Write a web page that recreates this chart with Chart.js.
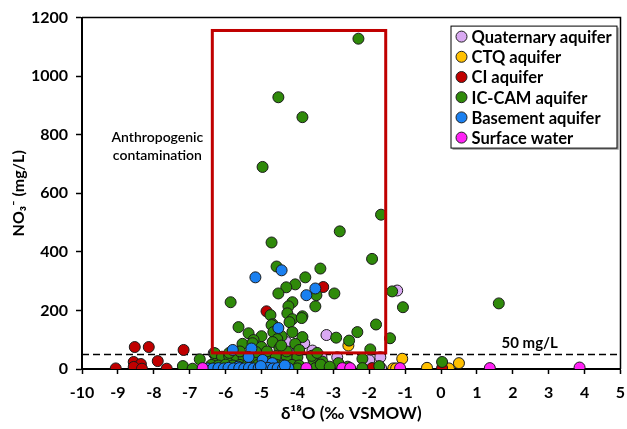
<!DOCTYPE html>
<html>
<head>
<meta charset="utf-8">
<script src="https://cdn.jsdelivr.net/npm/chart.js@4/dist/chart.umd.min.js"></script>
<style>body{margin:0;background:#fff}</style>
</head>
<body>
<canvas id="myChart" width="627" height="429"></canvas>
<script>
const seriesNames = ["Quaternary aquifer", "CTQ aquifer", "CI aquifer", "IC-CAM aquifer", "Basement aquifer", "Surface water"];
const seriesColors = ["#D9A9F2", "#FFC000", "#C00000", "#2F8A0A", "#1A80F0", "#FF22F5"];

// [δ18O, NO3] pairs
const quaternary = [[-1.22,268],[-3.19,116],[-4.31,92],[-3.81,88],[-3.58,63],[-6.33,54],[-3.33,40],[-2.89,40],
  [-1.69,40],[-2.00,30],[-1.67,3],[-4.00,60],[-4.60,40]];
const ctq = [[-2.58,80],[-1.08,35],[-1.33,2],[-0.39,4],[0.22,2],[0.50,20],[-1.25,2]];
const ci = [[-8.53,75],[-8.14,75],[-7.17,65],[-9.06,2],[-8.56,24],[-8.36,17],[-8.56,7],[-8.33,1],[-7.89,27],
  [-7.64,1],[-4.86,197],[-3.28,280],[-1.92,3],[0.03,3]];
const iccam = [[-2.30,1128],[-4.53,928],[-3.86,860],[-4.97,690],[-1.67,527],[-2.82,470],[-4.72,432],[-1.92,376],
  [-4.58,350],[-3.36,343],[-3.78,313],[-4.06,289],[-4.31,279],[-1.36,265],[-4.53,258],[-3.47,252],[-2.97,258],
  [1.61,224],[-5.86,228],[-4.14,228],[-3.50,214],[-4.25,214],[-1.06,211],[-4.28,190],[-4.75,184],[-3.86,180],
  [-4.14,170],[-3.88,174],[-4.22,160],[-4.69,153],[-4.72,150],[-1.81,152],[-5.64,143],[-5.36,122],[-4.67,126],
  [-4.14,126],[-2.33,126],[-5.00,112],[-4.44,112],[-4.56,102],[-3.86,109],[-2.92,107],[-2.56,97],[-1.42,105],
  [-5.22,99],[-5.53,86],[-4.06,86],[-5.25,88],[-4.69,92],[-5.00,75],[-4.50,71],[-1.97,67],[-6.28,45],[-6.72,33],
  [-7.19,10],[-6.92,1],[-2.19,35],[-2.86,20],[-1.72,10],[-3.31,3],[-2.19,3],[0.03,24],
  [-6.30,54],[-6.10,42],[-5.90,44],[-5.70,44],[-5.50,42],[-5.20,41],[-4.90,43],[-4.60,44],[-4.30,42],[-4.00,40],
  [-6.40,14],[-6.20,12],[-6.00,15],[-5.80,12],[-5.60,14],[-5.40,13],[-5.10,14],[-4.80,12],[-4.60,15],[-4.40,13],
  [-4.15,14],[-3.95,12],[-4.00,2],[-3.55,30],[-3.30,25],[-3.40,10],[-3.50,3],[-3.25,3],[-3.35,15],[-3.60,45],
  [-3.45,55],[-5.60,60],[-5.90,55],[-4.30,60],[-3.10,8],[-4.85,60],[-5.15,58],[-4.45,80],[-3.95,65],[-2.60,8]];
const basement = [[-5.17,313],[-4.44,337],[-3.50,275],[-3.75,252],[-4.53,140],[-5.80,65],[-5.28,70],[-5.36,41],
  [-4.97,31],[-4.70,20],[-5.65,8],[-6.50,2],[-6.35,2],[-6.20,3],[-6.05,2],[-5.92,4],[-5.78,2],[-5.62,3],[-5.48,2],
  [-5.35,4],[-5.22,2],[-5.08,3],[-4.95,2],[-4.82,4],[-4.68,2],[-4.55,3],[-4.40,2],[-4.25,3],[-5.02,10],[-4.35,12]];
const surface = [[-6.64,3],[-3.75,3],[-2.75,3],[-2.53,3],[-1.14,3],[1.36,3],[3.86,5]];

const allSeries = [quaternary, ctq, ci, iccam, basement, surface];
const drawOrder = [5, 4, 3, 2, 1, 0];

// annotation values
const boxX = [-6.37, -1.54];
const boxY = [55, 1156];
const limitY = 50;

const fontFam = "Lato, 'Open Sans', sans-serif";

const overlay = {
  id: "overlay",
  beforeDatasetsDraw(chart) {
    const { ctx, chartArea: a, scales: { x, y } } = chart;
    ctx.save();
    ctx.strokeStyle = "#000";
    ctx.lineWidth = 1.5;
    ctx.beginPath();
    ctx.moveTo(a.left, a.top);
    ctx.lineTo(a.right, a.top);
    ctx.lineTo(a.right, a.bottom);
    ctx.stroke();
    const yy = Math.round(y.getPixelForValue(limitY)) + 0.5;
    ctx.setLineDash([7, 4]);
    ctx.beginPath();
    ctx.moveTo(a.left, yy);
    ctx.lineTo(a.right, yy);
    ctx.stroke();
    ctx.restore();
  },
  afterDatasetsDraw(chart) {
    const { ctx, chartArea: a, scales: { x, y } } = chart;
    ctx.save();
    // red box
    ctx.strokeStyle = "#C00000";
    ctx.lineWidth = 3;
    const x0 = x.getPixelForValue(boxX[0]), x1 = x.getPixelForValue(boxX[1]);
    const y0 = y.getPixelForValue(boxY[1]), y1 = y.getPixelForValue(boxY[0]);
    ctx.strokeRect(x0, y0, x1 - x0, y1 - y0);

    // labels
    ctx.fillStyle = "#000";
    ctx.textAlign = "center";
    ctx.textBaseline = "middle";
    ctx.font = "600 14px " + fontFam;
    ctx.fillText("Anthropogenic", x.getPixelForValue(-7.9), y.getPixelForValue(792));
    ctx.fillText("contamination", x.getPixelForValue(-7.9), y.getPixelForValue(728));
    ctx.font = "bold 15px " + fontFam;
    ctx.fillText("50 mg/L", x.getPixelForValue(2.47), y.getPixelForValue(88));

    // legend
    const lx = a.right - 170, ly = a.top + 8, lw = 166, lh = 122;
    ctx.fillStyle = "#fff";
    ctx.fillRect(lx, ly, lw, lh);
    ctx.strokeStyle = "#999";
    ctx.lineWidth = 1.5;
    ctx.beginPath();
    ctx.moveTo(lx + lw + 1.5, ly + 2);
    ctx.lineTo(lx + lw + 1.5, ly + lh + 1.5);
    ctx.lineTo(lx + 2, ly + lh + 1.5);
    ctx.stroke();
    ctx.strokeStyle = "#000";
    ctx.lineWidth = 1;
    ctx.strokeRect(lx + 0.5, ly + 0.5, lw, lh);
    ctx.textAlign = "left";
    ctx.font = "bold 16.5px " + fontFam;
    seriesNames.forEach((name, i) => {
      const cy = ly + 11 + i * 20.2;
      ctx.beginPath();
      ctx.arc(lx + 11, cy, 5.5, 0, Math.PI * 2);
      ctx.fillStyle = seriesColors[i];
      ctx.fill();
      ctx.strokeStyle = "#222";
      ctx.lineWidth = 1;
      ctx.stroke();
      ctx.fillStyle = "#000";
      ctx.fillText(name, lx + 21, cy + 1);
    });
    ctx.restore();
  }
};

const tickFont = { family: fontFam, size: 16, weight: "bold" };

const config = {
  type: "scatter",
  data: {
    datasets: allSeries.map((pts, i) => ({
      label: seriesNames[i],
      data: pts.map(p => ({ x: p[0], y: p[1] })),
      backgroundColor: seriesColors[i],
      borderColor: "#1a1a1a",
      borderWidth: 1,
      pointRadius: 5.5,
      order: drawOrder[i]
    }))
  },
  options: {
    responsive: false,
    animation: false,
    layout: { padding: { left: 0, top: 16, right: -3, bottom: 0 } },
    plugins: { legend: { display: false }, tooltip: { enabled: false } },
    scales: {
      x: {
        type: "linear", min: -10, max: 5,
        ticks: { stepSize: 1, color: "#000", font: tickFont, padding: 9 },
        grid: { drawOnChartArea: false, drawTicks: true, tickLength: 5, tickColor: "#000", tickWidth: 1.5 },
        border: { color: "#000", width: 2 },
        title: { display: true, text: "δ¹⁸O (‰ VSMOW)", color: "#000", font: { family: fontFam, size: 17, weight: "bold" }, padding: { top: 2, bottom: 5 } },
        afterFit(s) { s.height = 60; s.paddingRight = 0; }
      },
      y: {
        type: "linear", min: 0, max: 1200,
        ticks: { stepSize: 200, color: "#000", font: tickFont, padding: 8, callback: v => String(v) },
        grid: { drawOnChartArea: false, drawTicks: true, tickLength: 6, tickColor: "#000", tickWidth: 1.5 },
        border: { color: "#000", width: 2 },
        title: { display: true, text: "NO₃⁻ (mg/L)", color: "#000", font: tickFont, padding: { top: 9, bottom: 0 } },
        afterFit(s) { s.width = 82; }
      }
    }
  },
  plugins: [overlay]
};

const ctx = document.getElementById("myChart").getContext("2d");
const myChart = new Chart(ctx, config);
</script>
</body>
</html>
